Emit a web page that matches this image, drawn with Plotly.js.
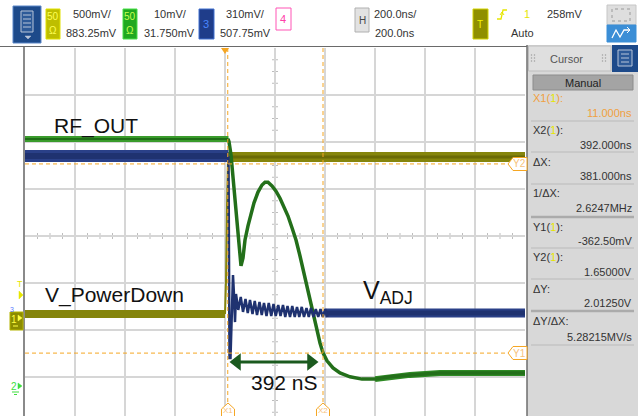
<!DOCTYPE html>
<html><head><meta charset="utf-8">
<script src="https://cdn.plot.ly/plotly-3.0.1.min.js"></script>
<style>html,body{margin:0;padding:0;background:#fff;}#chart{width:638px;height:416px;}</style>
</head><body><div id="chart"></div>
<script>
// ---------------- DATA ----------------
// time in ns, voltage in V
// Channel 1 (yellow) : V_PowerDown
const ch1PreT  = [-800, 0];
const ch1PreV  = [0.054, 0.054];
const ch1EdgeT = [0, 1, 4, 8, 12];
const ch1EdgeV = [0.054, 0.33, 0.40, 1.20, 1.724];
const ch1PostT = [12, 1200];
const ch1PostV = [1.724, 1.724];

// Channel 2 (green) : RF_OUT
const ch2PreT = [-800, 14];
const ch2PreV = [0.0524, 0.0524];
const ch2T = [12, 16, 24, 32, 40, 48, 56, 64, 72, 80,
              92, 104, 116, 132, 148, 160, 172, 188, 204, 220,
              236, 252, 268, 284, 300, 316, 332, 348, 364, 380,
              392, 408, 432, 460, 500, 548, 600, 660, 740, 860, 1200];
const ch2V = [0.0524, 0.0518, 0.0490, 0.0443, 0.0390, 0.0337, 0.0288, 0.0254, 0.0271, 0.0309,
              0.0339, 0.0366, 0.0388, 0.0411, 0.0426, 0.0432, 0.0432, 0.0424, 0.0413, 0.0398,
              0.0381, 0.0360, 0.0335, 0.0309, 0.0275, 0.0237, 0.0196, 0.0158, 0.0122, 0.0090,
              0.0069, 0.0052, 0.0037, 0.0026, 0.0018, 0.0013, 0.0013, 0.0018, 0.0022, 0.0026, 0.0026];

// Channel 3 (blue) : V_ADJ
const ch3PreT = [-800, 14];
const ch3PreV = [1.035, 1.035];
const ch3T = [14, 18, 22, 26, 32, 36, 40,
              44, 53, 63, 72, 82, 91, 100, 110, 119, 128, 138, 147, 156, 166, 175, 185, 194, 203, 213, 222,
              232, 241, 250, 260, 269, 279, 288, 297, 307, 316, 326, 335, 344, 354, 363, 373, 382, 391, 401, 410];
const ch3V = [1.035, -0.297, -0.297, -0.112, 0.250, 0.118, -0.060,
              0.125, 0.020, 0.105, 0.007, 0.092, 0.000, 0.086, -0.007, 0.079, -0.013,
              0.072, -0.013, 0.066, -0.020, 0.066, -0.020, 0.059, -0.020, 0.053, -0.020,
              0.053, -0.026, 0.046, -0.026, 0.046, -0.026, 0.040, -0.026, 0.040, -0.026,
              0.033, -0.026, 0.033, -0.026, 0.026, -0.026, 0.026, -0.026, 0.026, -0.026];
const ch3PostT = [401, 1200];
const ch3PostV = [0.0, 0.0];

// Cursors
const cursorX = [11, 392];          // ns
const cursorY = [-0.3625, 1.65];    // V (ch1)
const triggerT = 0;

// Arrow measurement (arrow-head centres) and level
const arrowT = [48, 344];
const arrowV = [-0.457, -0.457];

// Channel settings (scale V/div, offset V)
const ch1Scale = 0.5,  ch1Off = 0.88325;
const ch2Scale = 0.010, ch2Off = 0.03175;
const ch3Scale = 0.31, ch3Off = 0.50775;
const hScale = 200, hDelay = 200;

// Header labels
const headerTexts = [
  ['500mV/', 92, 14], ['883.25mV', 91, 33],
  ['10mV/', 170, 14], ['31.750mV', 169, 33],
  ['310mV/', 245, 14], ['507.75mV', 245, 33],
  ['200.0ns/', 395, 14], ['200.0ns', 395, 33],
  ['258mV', 565, 14], ['Auto', 522, 33]
];
// Cursor panel rows: [label, labelY, value, valueY, orange]
const panelRows = [
  ["X1(<span style='color:#e6e600'>1</span>):", 98, '11.000ns', 113, true],
  ["X2(<span style='color:#e6e600'>1</span>):", 130, '392.000ns', 145, false],
  ['ΔX:', 162, '381.000ns', 176, false],
  ['1/ΔX:', 193, '2.6247MHz', 208, false],
  ["Y1(<span style='color:#e6e600'>1</span>):", 227, '-362.50mV', 241, false],
  ["Y2(<span style='color:#e6e600'>1</span>):", 257, '1.65000V', 272, false],
  ['ΔY:', 289, '2.01250V', 303, false],
  ['ΔY/ΔX:', 321, '5.28215MV/s', 337, false]
];
const panelSeps = [[121,1],[152,1],[184,1],[217,2.5],[248,1],[279,1],[311,2.5],[345,1]];

// ---------------- LAYOUT HELPERS ----------------
const W = 638, H = 416;
const PX0 = 25, PX1 = 525, PY0 = 48, DIVPX = 47;
const X = p => p / W;
const Y = p => 1 - p / H;
const yTop = Y(PY0);
const divsBelow = (H - 236) / DIVPX;   // divisions visible below centre line
function rangeFor(scale, off) { return [off - divsBelow * scale, off + 4 * scale]; }

const FONT = 'Liberation Sans, Arial, sans-serif';
const shapes = [];
const ann = [];
function rect(x0, y0, x1, y1, fill, line, lw, layer) {
  shapes.push({type:'rect', xref:'paper', yref:'paper', x0:X(x0), x1:X(x1), y0:Y(y1), y1:Y(y0),
    fillcolor: fill, line:{color: line || fill, width: lw === undefined ? 1 : lw}, layer: layer || 'above'});
}
function pline(x0, y0, x1, y1, color, w, dash) {
  shapes.push({type:'line', xref:'paper', yref:'paper', x0:X(x0), x1:X(x1), y0:Y(y0), y1:Y(y1),
    line:{color, width:w, dash: dash || 'solid'}, layer:'above'});
}
function ppath(pts, fill, color, w) {
  let d = pts.map((p, i) => (i ? 'L' : 'M') + X(p[0]).toFixed(5) + ',' + Y(p[1]).toFixed(5)).join(' ');
  if (fill) d += ' Z';
  shapes.push({type:'path', xref:'paper', yref:'paper', path:d, fillcolor: fill || 'rgba(0,0,0,0)',
    line:{color, width:w}, layer:'above'});
}
function txt(x, y, text, size, color, xanchor, family) {
  ann.push({xref:'paper', yref:'paper', x:X(x), y:Y(y), text, showarrow:false,
    xanchor: xanchor || 'center', yanchor:'middle',
    font:{family: family || FONT, size: size || 11, color: color || '#333'}});
}
function grip(cx, cy) {
  [[-1.5, -3], [1.5, -3], [-1.5, 0], [1.5, 0], [-1.5, 3], [1.5, 3]].forEach(([dx, dy]) =>
    rect(cx + dx - 0.6, cy + dy - 0.6, cx + dx + 0.6, cy + dy + 0.6, '#9a9a9a', '#9a9a9a', 0));
}

// ---------------- HEADER ----------------
rect(13, 6, 41, 43, '#1d4a8a', '#5b86c8', 1);
rect(21, 11, 33, 32, '#2d5a98', '#b8c4d8', 1);
[15, 19, 23, 27].forEach(yy => pline(23, yy, 31, yy, '#b8c4d8', 1));
ppath([[25, 36], [31, 36], [28, 39]], '#b8c4d8', '#b8c4d8', 0.5);
rect(46, 9, 60, 39, '#bebe00', '#e2e200', 1);
txt(53, 17, '50', 10, '#ffff55'); txt(53, 31, 'Ω', 10, '#ffff55');
rect(123, 9, 137, 39, '#20a820', '#48e048', 1);
txt(130, 17, '50', 10, '#c8ff50'); txt(130, 31, 'Ω', 10, '#c8ff50');
rect(199, 9, 214, 39, '#1f3d8a', '#4070d0', 1);
txt(206, 24, '3', 11, '#4a86ff');
rect(276, 8, 291, 30, '#ffffff', '#ff55b5', 1);
txt(283, 19, '4', 11, '#ff40a8');
rect(355, 8, 369, 32, '#e2e2e2', '#b0b0b0', 1);
txt(362, 20, 'H', 10, '#444');
rect(473, 9, 488, 39, '#8f8f00', '#d4d400', 1);
txt(480, 24, 'T', 10, '#f4f400');
ppath([[497, 19], [501, 19], [503, 10], [507, 10]], null, '#e6e600', 1.3);
ppath([[500, 15], [502, 12], [504, 15]], null, '#e6e600', 1);
txt(527, 14, '1', 11, '#e6e600');
headerTexts.forEach(t => txt(t[1], t[2], t[0], 11, '#333'));
rect(607, 5, 636, 25, '#dedede', '#c6c6c6', 1);
shapes.push({type:'rect', xref:'paper', yref:'paper', x0:X(612), x1:X(630), y0:Y(21), y1:Y(9),
  fillcolor:'rgba(0,0,0,0)', line:{color:'#9a9a9a', width:1, dash:'dot'}, layer:'above'});
rect(607, 25, 636, 42, '#3b8ed6', '#3b8ed6', 1);
ppath([[612, 38], [616, 30], [620, 37], [624, 30], [630, 30]], null, '#ffffff', 1.3);
ppath([[627, 27], [630, 30], [627, 33]], null, '#ffffff', 1);
pline(0, 46.5, 527, 46.5, '#6a6a6a', 1);

// ---------------- RIGHT PANEL ----------------
rect(527, 45, 638, 416, '#d8d8d8', '#d8d8d8', 0);
rect(528.5, 46, 611, 71, '#dfdfdf', '#bdbdbd', 1);
rect(612, 45, 638, 72, '#1d4a8a', '#1d4a8a', 0);
rect(618, 50, 632, 66, '#2d5a98', '#b8c4d8', 1);
[54, 58, 62].forEach(yy => pline(621, yy, 629, yy, '#b8c4d8', 1));
txt(566, 59, 'Cursor', 11, '#555');
grip(533, 58);
grip(604, 58);
rect(533, 75, 633, 90, '#a4a4a4', '#8c8c8c', 1);
txt(583, 82.5, 'Manual', 11, '#222');
panelRows.forEach(r => {
  txt(531, r[1], r[0], 11, r[4] ? '#f0a040' : '#333', 'left');
  txt(634, r[3], r[2], 11, r[4] ? '#f0a040' : '#333', 'right');
});
panelSeps.forEach(s => pline(531, s[0], 634, s[0], s[1] > 1 ? '#ababab' : '#bababa', s[1]));
pline(527, 45, 527, 416, '#6e6e6e', 1.5);

// ---------------- PLOT FRAME / MARKERS ----------------
pline(24, 47, 24, 416, '#8a8a8a', 2);
const xCenter = hDelay;
for (let t = hDelay - 5 * hScale; t <= hDelay + 5 * hScale; t += hScale / 4) {
  if (Math.abs((t - hDelay) % hScale) < 1e-6) continue;
  shapes.push({type:'line', xref:'x', yref:'y', ysizemode:'pixel', yanchor: ch1Off, y0:-3, y1:3,
    x0:t, x1:t, line:{color:'#bdbdbd', width:1}, layer:'below'});
}
for (let k = -16; k <= 16; k++) {
  if (k % 4 === 0) continue;
  const v = ch1Off + k * ch1Scale / 4;
  shapes.push({type:'line', xref:'x', yref:'y', xsizemode:'pixel', xanchor: xCenter, x0:-3, x1:3,
    y0:v, y1:v, line:{color:'#bdbdbd', width:1}, layer:'below'});
}
const CUR = '#f5a623';
cursorX.forEach(t => shapes.push({type:'line', xref:'x', yref:'paper', x0:t, x1:t, y0:0, y1:yTop,
  line:{color:CUR, width:1, dash:'4px,3px'}, layer:'above'}));
cursorY.forEach(v => shapes.push({type:'line', xref:'paper', yref:'y', x0:X(PX0), x1:X(508), y0:v, y1:v,
  line:{color:CUR, width:1, dash:'4px,3px'}, layer:'above'}));
shapes.push({type:'path', xref:'x', yref:'paper', xsizemode:'pixel', xanchor: triggerT,
  path:`M-4,${yTop} L4,${yTop} L0,${Y(54)} Z`, fillcolor:CUR, line:{color:CUR, width:0}, layer:'above'});
[['Y2', 164], ['Y1', 353]].forEach(([lab, yy]) => {
  ppath([[527, yy - 6.5], [513, yy - 6.5], [508, yy], [513, yy + 6.5], [527, yy + 6.5]], '#ffffff', CUR, 1);
  txt(519, yy, lab, 10, '#f7c27a');
});
[['X1', 228], ['X2', 323]].forEach(([lab, xx]) => {
  ppath([[xx - 6.5, 417], [xx - 6.5, 409], [xx, 403], [xx + 6.5, 409], [xx + 6.5, 417]], '#ffffff', CUR, 1);
  txt(xx, 410.5, lab, 8, '#f7c27a');
});
txt(20, 284, 'T', 9, '#e6e600');
ppath([[19, 291], [23, 295], [19, 299]], '#e6e600', '#e6e600', 0.5);
txt(12, 309, '3', 7, '#5a7cff');
rect(10, 312, 23, 330, '#8c8c00', '#b4b400', 1);
txt(14, 319, '1', 10, '#ffff44');
ppath([[18, 315], [22, 318], [18, 321]], '#ffff44', '#ffff44', 0.5);
pline(13, 326, 18, 326, '#ffff44', 1);
txt(14, 386, '2', 10, '#3ede3e');
ppath([[18, 383], [22, 386], [18, 389]], '#3ede3e', '#3ede3e', 0.5);
pline(12, 392, 19, 392, '#3ede3e', 1);
pline(14, 394.5, 17, 394.5, '#3ede3e', 1);

// ---------------- TEXT ON PLOT ----------------
txt(52, 126, 'RF_OUT', 21, '#111', 'left');
txt(43, 295, 'V_PowerDown', 21, '#111', 'left');
txt(361, 292, 'V<sub>ADJ</sub>', 25, '#111', 'left');
txt(249, 382, '392 nS', 21, '#111', 'left');

// ---------------- TRACES ----------------
const Y1C = '#85850c', Y3C = '#1f3270';
function tr(x, y, color, width, yaxis) {
  return {type:'scatter', mode:'lines', x, y, yaxis, hoverinfo:'skip', showlegend:false,
    line:{color, width, shape:'linear'}};
}
const postStart = 560;
const traces = [
  tr(ch1PreT, ch1PreV, Y1C, 8, 'y'),
  tr(ch1EdgeT, ch1EdgeV, Y1C, 2, 'y'),
  tr(ch1PostT, ch1PostV, Y1C, 10, 'y'),
  tr(ch1PostT, ch1PostV, '#6a6a06', 3, 'y'),
  tr(ch3PreT, ch3PreV, '#2a4088', 12, 'y3'),
  tr(ch3PreT, ch3PreV, Y3C, 6, 'y3'),
  tr(ch3PostT, ch3PostV, '#2a4088', 9, 'y3'),
  tr(ch3PostT, ch3PostV, Y3C, 5, 'y3'),
  tr(ch3T, ch3V, Y3C, 2.5, 'y3'),
  tr(ch2PreT, ch2PreV, '#3a9c2c', 6, 'y2'),
  tr(ch2PreT, ch2PreV, '#1f6e17', 2, 'y2'),
  tr(ch2T.filter(t => t >= postStart), ch2V.filter((v, i) => ch2T[i] >= postStart), '#2f8a25', 6, 'y2'),
  tr(ch2T, ch2V, '#236f1a', 3.5, 'y2'),
  {type:'scatter', mode:'lines+markers', x: arrowT, y: arrowV, yaxis:'y', hoverinfo:'skip', showlegend:false,
    line:{color:'#1b5a1f', width:3},
    marker:{symbol:['triangle-left', 'triangle-right'], size:15, color:'#1b5a1f', line:{width:0}}}
];

const layout = {
  width: W, height: H,
  margin: {l:0, r:0, t:0, b:0, pad:0},
  paper_bgcolor: '#ffffff', plot_bgcolor: '#ffffff',
  font: {family: FONT, size: 11, color: '#333'},
  showlegend: false,
  xaxis: {domain:[X(PX0), X(PX1)], range:[hDelay - 5 * hScale, hDelay + 5 * hScale],
    tick0: hDelay, dtick: hScale, showgrid: true, gridcolor:'#d6d6d6', gridwidth:1.5,
    zeroline:false, showticklabels:false, ticks:'', showline:false, fixedrange:true},
  yaxis: {domain:[0, yTop], range: rangeFor(ch1Scale, ch1Off), tick0: ch1Off, dtick: ch1Scale,
    showgrid: true, gridcolor:'#d6d6d6', gridwidth:1.5, zeroline:false, showticklabels:false,
    ticks:'', showline:false, fixedrange:true},
  yaxis2: {overlaying:'y', range: rangeFor(ch2Scale, ch2Off), visible:false, fixedrange:true},
  yaxis3: {overlaying:'y', range: rangeFor(ch3Scale, ch3Off), visible:false, fixedrange:true},
  shapes, annotations: ann
};
Plotly.newPlot('chart', traces, layout, {staticPlot:true, displayModeBar:false});
</script></body></html>
